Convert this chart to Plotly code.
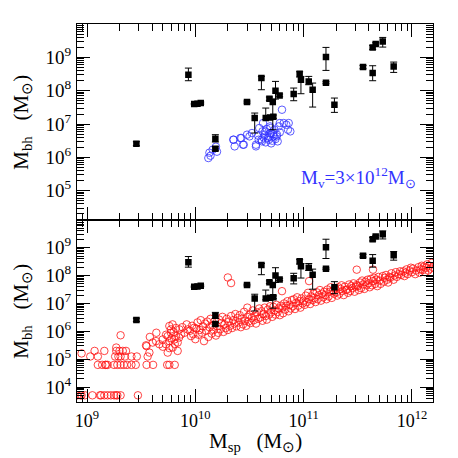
import plotly.graph_objects as go
from plotly.subplots import make_subplots

# observed galaxies (log10 M_sp, log10 M_bh, error up / down in dex)
obs_log_msp = [9.456, 9.936, 9.99, 10.02, 10.05, 10.185, 10.185, 10.477, 10.548, 10.61,
               10.65, 10.69, 10.72, 10.684, 10.715, 10.74, 10.778, 10.908, 10.963, 10.975,
               11.047, 11.083, 11.206, 11.206, 11.284, 11.548, 11.637, 11.637, 11.665, 11.73,
               11.831]
obs_log_mbh = [6.41, 8.48, 7.60, 7.61, 7.63, 6.56, 6.26, 7.66, 7.18, 8.38,
               7.18, 7.20, 7.22, 7.76, 7.66, 8.00, 7.86, 7.90, 8.51, 8.33,
               8.28, 8.03, 9.01, 8.24, 7.58, 8.71, 8.53, 9.30, 9.40, 9.48,
               8.73]
obs_err_up = [0.06, 0.20, 0.02, 0.02, 0.03, 0.12, 0.06, 0.03, 0.15, 0.05,
              0.30, 0.05, 0.05, 0.05, 0.08, 0.28, 0.04, 0.18, 0.06, 0.10,
              0.15, 0.20, 0.29, 0.03, 0.20, 0.05, 0.22, 0.06, 0.04, 0.12,
              0.13]
obs_err_dn = [0.06, 0.18, 0.02, 0.02, 0.03, 0.10, 0.06, 0.03, 0.45, 0.35,
              0.05, 0.05, 0.05, 0.05, 0.83, 0.25, 0.04, 0.20, 0.10, 0.42,
              0.10, 0.52, 0.40, 0.03, 0.23, 0.05, 0.23, 0.06, 0.04, 0.17,
              0.18]

# model, M_v = 3e12 (top panel)
blue_log_msp = [10.12, 10.13, 10.16, 10.19, 10.20, 10.14, 10.354, 10.363, 10.416, 10.447,
                10.477, 10.523, 10.56, 10.585, 10.615, 10.647, 10.677, 10.693, 10.723, 10.754,
                10.77, 10.80, 10.816, 10.862, 10.877, 10.35, 10.425, 10.44, 10.50, 10.56,
                10.61, 10.64, 10.67, 10.70, 10.73, 10.75, 10.69, 10.78, 10.84, 10.855,
                10.625, 10.59, 10.65, 10.68, 10.71, 10.72, 10.66, 10.74, 10.63, 10.70,
                10.76, 10.78, 10.58, 10.62, 10.69]
blue_log_mbh = [5.98, 6.14, 6.23, 6.32, 6.17, 6.05, 6.53, 6.33, 6.58, 6.38,
                6.68, 6.73, 6.33, 6.53, 6.48, 6.78, 6.53, 6.88, 6.63, 6.68,
                6.93, 7.43, 7.03, 7.03, 6.78, 6.53, 6.58, 6.38, 6.63, 6.38,
                6.53, 6.68, 6.58, 6.73, 6.83, 6.63, 6.93, 7.03, 6.98, 6.83,
                7.03, 6.88, 6.45, 6.62, 6.50, 6.70, 6.85, 6.55, 6.60, 6.42,
                6.48, 6.75, 6.65, 6.78, 6.72]

# model, full sample (bottom panel)
red_log_msp = [
    8.91, 8.94, 8.95, 8.98, 9.05, 9.12, 9.13, 9.16, 9.19, 9.22, 9.25, 9.27, 9.28, 9.31, 9.47,
    9.10, 9.14, 9.17, 9.175, 9.19, 9.25, 9.28, 9.31, 9.34, 9.37, 9.41, 9.45, 9.55, 9.61, 9.74, 9.76, 9.81,
    9.03, 9.10, 9.26, 9.29, 9.31, 9.35, 9.41, 9.46, 9.56,
    9.16, 9.27, 9.30, 9.33, 9.36, 9.07,
    8.95, 9.31, 9.27, 9.55,
    9.545, 9.576, 9.606, 9.637, 9.668, 9.699, 9.729, 9.745, 9.761, 9.775,
    9.791, 9.807, 9.822, 9.837, 9.853, 9.868, 9.93, 9.96, 9.99, 9.837,
    9.745, 9.775, 9.79, 9.76, 9.78, 9.80, 9.82, 9.76, 9.73, 9.70,
    9.81, 9.85, 9.88, 9.90, 9.92, 9.95, 9.97, 9.98, 9.64, 9.58,
    10.00, 10.01, 10.02, 10.03, 10.04, 10.05, 10.06, 10.07, 10.08, 10.09,
    10.10, 10.11, 10.12, 10.13, 10.14, 10.15, 10.16, 10.17, 10.18, 10.19,
    10.20, 10.21, 10.22, 10.23, 10.24, 10.25, 10.26, 10.27, 10.28, 10.29,
    10.30, 10.31, 10.32, 10.33, 10.34, 10.35, 10.36, 10.37, 10.38, 10.39,
    10.40, 10.41, 10.42, 10.43, 10.44, 10.45, 10.46, 10.47, 10.48, 10.49,
    10.50, 10.51, 10.52, 10.53, 10.54, 10.55, 10.56, 10.57, 10.58, 10.59,
    10.60, 10.61, 10.62, 10.63, 10.64, 10.65, 10.66, 10.67, 10.68, 10.69,
    10.70, 10.71, 10.72, 10.73, 10.74, 10.75, 10.76, 10.77, 10.78, 10.79,
    10.80, 10.81, 10.82, 10.83, 10.84, 10.85, 10.86, 10.87, 10.88, 10.89,
    10.90, 10.91, 10.92, 10.93, 10.94, 10.95, 10.96, 10.97, 10.98, 10.99,
    11.00, 11.01, 11.02, 11.03, 11.04, 11.05, 11.06, 11.07, 11.08, 11.09,
    11.10, 11.11, 11.12, 11.13, 11.14, 11.15, 11.16, 11.17, 11.18, 11.19,
    11.20, 11.21, 11.22, 11.23, 11.24, 11.25, 11.26, 11.27, 11.28, 11.29,
    11.30, 11.31, 11.32, 11.33, 11.34, 11.35, 11.36, 11.37, 11.38, 11.39,
    11.40, 11.41, 11.42, 11.43, 11.44, 11.45, 11.46, 11.47, 11.48, 11.49,
    11.50, 11.51, 11.52, 11.53, 11.54, 11.55, 11.56, 11.57, 11.58, 11.59,
    11.60, 11.61, 11.62, 11.63, 11.64, 11.65, 11.66, 11.67, 11.68, 11.69,
    11.70, 11.71, 11.73, 11.74, 11.75, 11.76, 11.77, 11.78, 11.79,
    11.80, 11.81, 11.83, 11.84, 11.85, 11.86, 11.88, 11.89,
    11.90, 11.92, 11.93, 11.94, 11.95, 11.96, 11.98, 11.99,
    12.00, 12.01, 12.03, 12.04, 12.06, 12.07, 12.08, 12.09,
    12.10, 12.11, 12.12, 12.13, 12.14, 12.15, 12.16, 12.17, 12.18, 12.19,
    10.30, 10.33, 10.48, 10.80, 11.05, 11.49, 11.64,
]
red_log_mbh = [
    3.71, 3.71, 3.71, 3.71, 3.71, 3.71, 3.71, 3.71, 3.71, 3.71, 3.71, 3.71, 3.71, 3.71, 3.71,
    4.80, 4.80, 4.80, 4.80, 4.80, 4.80, 4.80, 4.80, 4.80, 4.80, 4.80, 4.80, 4.80, 4.80, 4.80, 4.80, 4.80,
    5.10, 5.10, 5.10, 5.10, 5.10, 5.10, 5.10, 5.10, 5.10,
    5.30, 5.30, 5.30, 5.30, 5.30, 5.30,
    5.21, 5.86, 5.42, 5.47,
    5.50, 5.24, 5.60, 5.65, 5.54, 5.71, 5.54, 5.83, 5.65, 5.95,
    5.42, 5.71, 5.83, 5.60, 6.07, 5.89, 6.07, 5.83, 6.13, 5.30,
    5.24, 6.07, 6.25, 6.19, 5.75, 5.98, 6.12, 5.40, 5.88, 5.45,
    5.55, 5.78, 6.15, 5.95, 6.25, 6.02, 6.20, 5.90, 5.95, 5.80,
    5.72, 6.10, 6.32, 5.88, 6.05, 6.40, 5.95, 6.18, 5.65, 6.28,
    6.02, 6.35, 5.80, 6.15, 6.45, 5.92, 6.22, 6.05, 6.38, 5.85,
    6.18, 5.95, 6.42, 6.08, 6.30, 6.52, 5.98, 6.25, 6.12, 6.45,
    6.05, 6.35, 6.20, 6.55, 6.12, 6.40, 6.28, 6.62, 6.18, 6.48,
    6.32, 6.58, 6.15, 6.45, 6.25, 6.70, 6.38, 6.20, 6.52, 6.35,
    6.60, 6.30, 6.48, 6.75, 6.40, 6.55, 6.28, 6.68, 6.45, 6.82,
    6.50, 6.72, 6.38, 6.62, 6.85, 6.55, 6.42, 6.78, 6.60, 6.90,
    6.68, 6.52, 6.88, 6.75, 6.60, 6.95, 6.70, 6.82, 6.58, 6.92,
    6.85, 6.65, 7.00, 6.78, 6.92, 7.08, 6.72, 6.95, 6.82, 7.12,
    6.90, 7.15, 6.80, 7.02, 7.22, 6.92, 7.08, 6.85, 7.18, 7.00,
    7.10, 6.95, 7.28, 7.05, 7.38, 7.15, 6.98, 7.25, 7.12, 7.35,
    7.20, 7.05, 7.40, 7.15, 7.30, 7.48, 7.10, 7.35, 7.22, 7.42,
    7.30, 7.15, 7.50, 7.25, 7.42, 7.58, 7.20, 7.45, 7.35, 7.55,
    7.40, 7.28, 7.58, 7.35, 7.52, 7.65, 7.45, 7.30, 7.60, 7.48,
    7.50, 7.38, 7.68, 7.45, 7.62, 7.55, 7.72, 7.42, 7.60, 7.66,
    7.62, 7.48, 7.75, 7.55, 7.82, 7.68, 7.52, 7.78, 7.65, 7.85,
    7.72, 7.58, 7.88, 7.65, 7.80, 7.92, 7.70, 7.85, 7.62, 7.95,
    7.82, 7.70, 7.98, 7.78, 7.92, 8.02, 7.85, 7.75, 7.95,
    7.92, 8.08, 7.85, 8.00, 8.12, 7.95, 8.05, 8.15,
    8.02, 8.15, 7.98, 8.10, 8.22, 8.05, 8.18, 8.28,
    8.12, 8.25, 8.05, 8.18, 8.30, 8.10, 8.22, 8.35,
    8.20, 8.32, 8.12, 8.28, 8.40, 8.18, 8.35, 8.25, 8.45, 8.30,
    7.93, 7.73, 6.85, 7.44, 7.80, 8.21, 8.21,
]

x_ticks = [1e9, 1e10, 1e11, 1e12]
x_ticktext = ['10<sup>9</sup>', '10<sup>10</sup>', '10<sup>11</sup>', '10<sup>12</sup>']
y_ticks = [1e3, 1e4, 1e5, 1e6, 1e7, 1e8, 1e9, 1e10]
y_ticktext = ['', '10<sup>4</sup>', '10<sup>5</sup>', '10<sup>6</sup>',
              '10<sup>7</sup>', '10<sup>8</sup>', '10<sup>9</sup>', '']


def lin(v):
    return [10 ** a for a in v]


def main():
    font = 'Liberation Serif'
    fig = make_subplots(rows=2, cols=1, shared_xaxes=True, vertical_spacing=0)

    obs_y = lin(obs_log_mbh)
    err_up = [10 ** (y + e) - 10 ** y for y, e in zip(obs_log_mbh, obs_err_up)]
    err_dn = [10 ** y - 10 ** (y - e) for y, e in zip(obs_log_mbh, obs_err_dn)]

    fig.add_trace(go.Scatter(
        x=lin(blue_log_msp), y=lin(blue_log_mbh), mode='markers',
        marker=dict(symbol='circle-open', size=7.5, color='rgb(50,50,255)',
                    line=dict(width=0.8)),
    ), row=1, col=1)
    fig.add_trace(go.Scatter(
        x=lin(red_log_msp), y=lin(red_log_mbh), mode='markers',
        marker=dict(symbol='circle-open', size=7.5, color='rgb(255,20,20)',
                    line=dict(width=0.8)),
    ), row=2, col=1)

    for r in (1, 2):
        fig.add_trace(go.Scatter(
            x=lin(obs_log_msp), y=obs_y, mode='markers',
            marker=dict(symbol='square', size=6.5, color='black'),
            error_y=dict(type='data', symmetric=False, array=err_up, arrayminus=err_dn,
                         thickness=1, width=3.5, color='black'),
        ), row=r, col=1)

    minor_vals = [m * 10 ** k for k in range(3, 13) for m in range(2, 10)]
    axis = dict(type='log', showline=True, linecolor='black', linewidth=1,
                mirror='allticks', ticks='inside', ticklen=13, tickwidth=1,
                tickcolor='black', showgrid=False, zeroline=False, automargin=False,
                minor=dict(ticks='inside', ticklen=7, tickwidth=1, tickcolor='black',
                           tickmode='array', tickvals=minor_vals, showgrid=False),
                tickfont=dict(family=font, size=19, color='black'))

    split = 0.4823
    fig.update_xaxes(axis, range=[8.9077, 12.194], tickmode='array',
                     tickvals=x_ticks, ticktext=x_ticktext)
    fig.update_xaxes(showticklabels=False, row=1, col=1)
    fig.update_xaxes(ticklabelstandoff=2, tickfont=dict(size=18), row=2, col=1)
    fig.update_yaxes(axis, tickmode='array', tickvals=y_ticks, ticktext=y_ticktext,
                     ticklabelstandoff=1)
    fig.update_yaxes(range=[4.129, 10.003], domain=[split, 1], row=1, col=1)
    fig.update_yaxes(range=[3.47, 10.0], domain=[0, split], row=2, col=1)

    title_font = dict(family=font, size=21, color='black')
    ytitle = 'M<sub>bh</sub>\u00a0\u00a0\u00a0(M<sub>\u2299</sub>)'
    for yd in ('y domain', 'y2 domain'):
        fig.add_annotation(text=ytitle, xref='paper', yref=yd, x=-0.155, y=0.5,
                           xanchor='center', yanchor='middle',
                           textangle=-90, showarrow=False, font=title_font)
    fig.add_annotation(text='M<sub>sp</sub>\u00a0\u00a0\u00a0(M<sub>\u2299</sub>)',
                       xref='paper', yref='paper', x=0.5, y=-0.107,
                       xanchor='center', yanchor='middle',
                       showarrow=False, font=title_font)

    fig.add_annotation(
        text='M<sub>v</sub>=3\u00d710<sup>12</sup>M<sub>\u2299</sub>',
        xref='paper', yref='paper', x=0.79, y=0.595, xanchor='center', yanchor='middle',
        showarrow=False, font=dict(family=font, size=19, color='rgb(50,50,255)'))

    # the page adds an 8 px body margin, so the figure is drawn 8 px smaller
    fig.update_layout(width=450, height=450, showlegend=False,
                      margin=dict(l=69, r=25, t=16, b=56),
                      plot_bgcolor='white', paper_bgcolor='white')
    fig.write_html('out.html')


if __name__ == '__main__':
    main()
